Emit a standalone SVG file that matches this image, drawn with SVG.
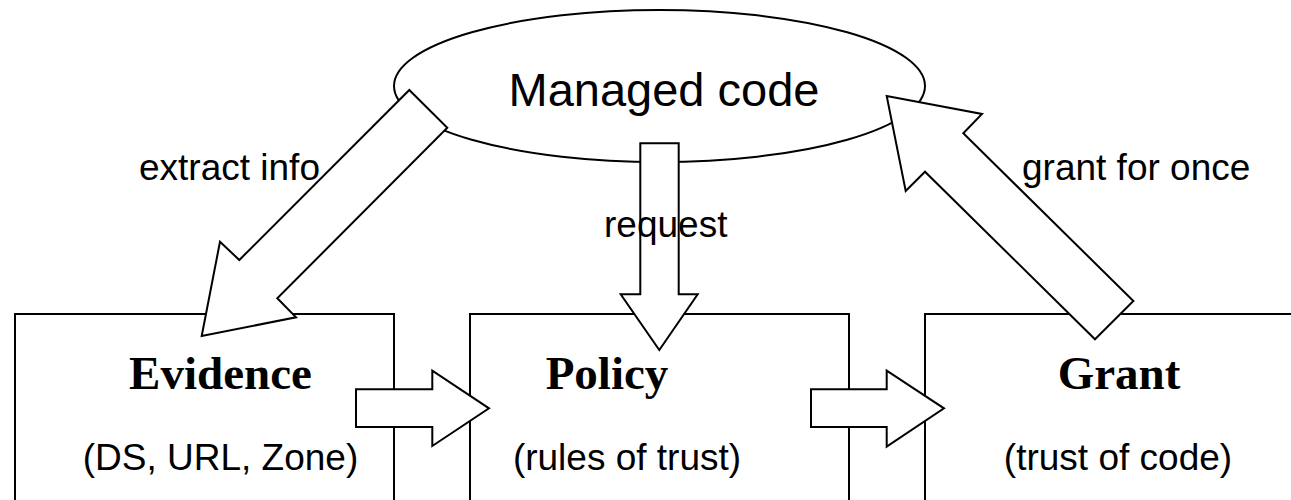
<svg xmlns="http://www.w3.org/2000/svg" width="1291" height="500" viewBox="0 0 1291 500">
<style>
.shape{fill:#fff;stroke:#000;stroke-width:2;stroke-linejoin:miter}
.lbl{font-family:"Liberation Sans",Arial,sans-serif;font-size:37px;fill:#000}
.title{font-family:"Liberation Serif","Times New Roman",serif;font-size:47px;font-weight:bold;fill:#000}
.big{font-family:"Liberation Sans",Arial,sans-serif;font-size:47px;fill:#000}
</style>
<rect width="1291" height="500" fill="#fff"/>
<g id="evidence">
<rect class="shape" x="15" y="314" width="379" height="200"/>
<text class="title" x="220.5" y="389" text-anchor="middle">Evidence</text>
<text class="lbl" x="220.5" y="470" text-anchor="middle">(DS, URL, Zone)</text>
</g>
<g id="policy">
<rect class="shape" x="470" y="314" width="379" height="200"/>
<text class="title" x="607" y="389" text-anchor="middle">Policy</text>
<text class="lbl" x="627" y="470" text-anchor="middle">(rules of trust)</text>
</g>
<g id="grant">
<rect class="shape" x="925" y="314" width="400" height="200"/>
<text class="title" x="1119" y="389" text-anchor="middle">Grant</text>
<text class="lbl" x="1118" y="470" text-anchor="middle">(trust of code)</text>
</g>
<g id="managed-code">
<ellipse class="shape" cx="659.5" cy="86" rx="265.5" ry="76"/>
<text class="big" x="664" y="106" text-anchor="middle">Managed code</text>
</g>
<g id="connectors">
<polygon class="shape" points="409.3,90 447.3,127.7 277.3,298.3 296,317.3 201.7,336 220,241.7 239.3,260"/>
<polygon class="shape" points="640.3,143.3 678.7,143.3 678.7,294.3 697.7,294.3 659.3,350 620.7,294.3 640.3,294.3"/>
<polygon class="shape" points="1095,339.3 1133.4,301 963.3,133.3 982,114 886.7,96 905.7,191 925,171.7"/>
<polygon class="shape" points="356,389.3 432.3,389.3 432.3,370.7 489,408.3 432.3,446 432.3,427 356,427"/>
<polygon class="shape" points="811,389.3 886.7,389.3 886.7,370.7 944,408.3 886.7,446.7 886.7,427 811,427"/>
<text class="lbl" x="139" y="180">extract info</text>
<text class="lbl" x="604" y="237">request</text>
<text class="lbl" x="1022" y="180">grant for once</text>
</g>
</svg>
